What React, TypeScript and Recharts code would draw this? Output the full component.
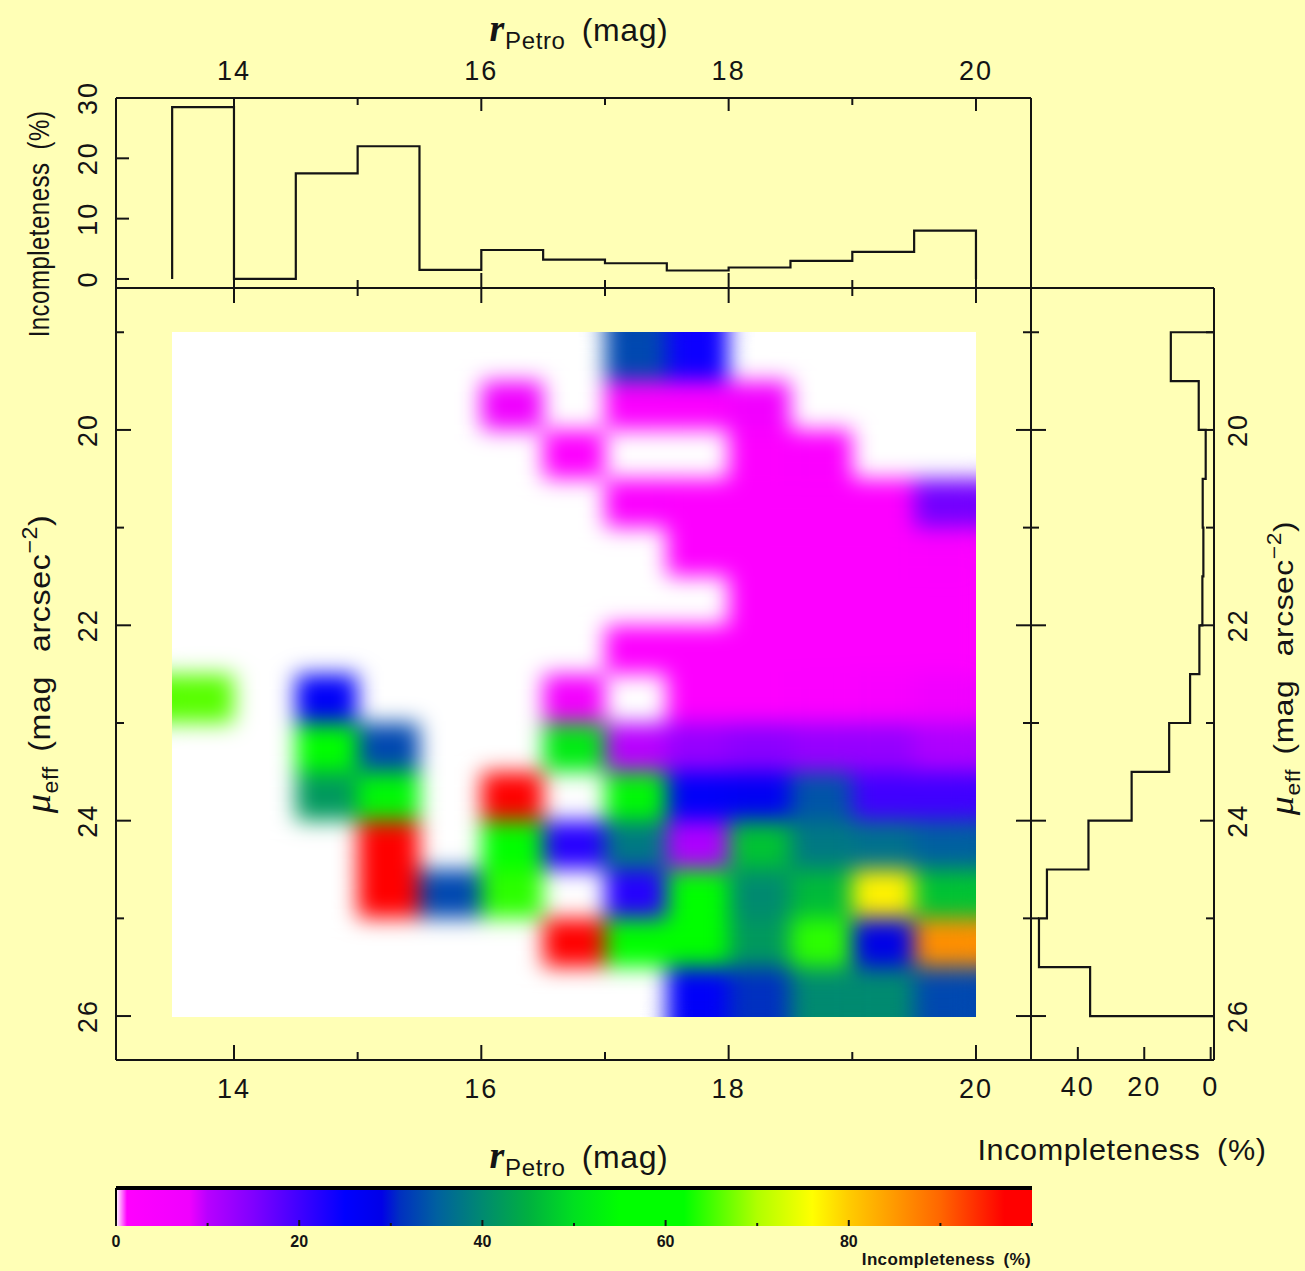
import React from "react";
import { BarChart, Bar, LineChart, Line, ScatterChart, Scatter, XAxis, YAxis } from "recharts";

const W = 1305, H = 1271;
const BG = "#FFFFB6", INK = "#141414";
const FONT = "'Liberation Sans', Arial, sans-serif";

// ---- data ----
const rBins = [13.5,14,14.5,15,15.5,16,16.5,17,17.5,18,18.5,19,19.5];
const muBins = [19,19.5,20,20.5,21,21.5,22,22.5,23,23.5,24,24.5,25,25.5];
const row190 = [0,0,0,0,0,0,0,33,24,0,0,0,0];
const row195 = [0,0,0,0,0,8,0,3,3,7,0,0,0];
const row200 = [0,0,0,0,0,0,2,0,0,2,3,0,0];
const row205 = [0,0,0,0,0,0,0,3,2,2,2,2,16];
const row210 = [0,0,0,0,0,0,0,0,2,2,2,2,3];
const row215 = [0,0,0,0,0,0,0,0,0,2,2,2,2];
const row220 = [0,0,0,0,0,0,0,2,2,2,2,2,2];
const row225 = [66,0,26,0,0,0,6,0,2,2,3,5,8];
const row230 = [0,0,55,33,0,0,52,10,13,14,13,13,11];
const row235 = [0,0,42,54,0,97,0,54,26,27,34,20,20];
const row240 = [0,0,0,97,0,55,22,38,11,47,38,37,35];
const row245 = [0,0,0,97,33,64,0,22,57,40,46,77,47];
const row250 = [0,0,0,0,0,0,97,55,56,42,64,29,86];
const row255 = [0,0,0,0,0,0,0,0,26,31,40,40,33];
const heatRows = [row190,row195,row200,row205,row210,row215,row220,row225,row230,row235,row240,row245,row250,row255];

const topEdges = [13.5,13.5,14,14.5,15,15.5,16,16.5,17,17.5,18,18.5,19,19.5,20];
const topValues = [0,28.5,0,17.5,22,1.5,4.8,3.2,2.6,1.4,1.9,3,4.5,8,0];
const rightEdges = [19,19,19.5,20,20.5,21,21.5,22,22.5,23,23.5,24,24.5,25,25.5,26];
const rightValues = [-1,12,3.6,1.5,2.4,2.2,2.5,3.4,6.2,12.5,23.8,36.8,49.3,51.7,36.3,-1];

const cbarStops = [0,0.6,1.2,8,10,15,20,25,29,31,35,40,45,50,55,62,70,76,80,90,97,100];
const cbarColors = ["#ffffff","#ff80ff","#ff00ff","#f000ff","#b800ff","#8000ff","#4000ff","#0000ff","#0000e8","#0030c0","#0060a0","#008a70","#00b040","#00e020","#00ff00","#00ff00","#b0ff00","#ffff00","#ffcc00","#ff6600","#ff0000","#ff0000"];
const cbarRow = [{ name: "scale", span: 100 }];

const rTicks = [14,15,16,17,18,19,20];
const muTicks = [19,20,21,22,23,24,25,26];
const incTicksTop = [0,10,20,30];
const incTicksRight = [0,20,40];
const cbarTicks = [0,10,20,30,40,50,60,70,80,90,100];

// ---- panels (page coordinates) ----
const R_DOMAIN: [number, number] = [13.046, 20.445];
const MU_DOMAIN: [number, number] = [18.547, 26.45];
const PLOT = { l: 116, r: 1031, t: 288, b: 1060 };
const cellW = ((PLOT.r - PLOT.l) / (R_DOMAIN[1] - R_DOMAIN[0])) * 0.5;
const cellH = ((PLOT.b - PLOT.t) / (MU_DOMAIN[1] - MU_DOMAIN[0])) * 0.5;

const parse = (h: string) => [1, 3, 5].map((i) => parseInt(h.slice(i, i + 2), 16));
function colorOf(v: number) {
  if (v <= 0) return "#ffffff";
  for (let i = 1; i < cbarStops.length; i++) {
    if (v <= cbarStops[i]) {
      const t = (v - cbarStops[i - 1]) / (cbarStops[i] - cbarStops[i - 1]);
      const a = parse(cbarColors[i - 1]), b = parse(cbarColors[i]);
      return `rgb(${a.map((c, k) => Math.round(c + (b[k] - c) * t)).join(",")})`;
    }
  }
  return "#ff0000";
}

const heatData = heatRows.flatMap((row, j) =>
  row.map((v, i) => ({ r: rBins[i] + 0.25, mu: muBins[j] + 0.25, v }))
);
const topData = topEdges.map((r, i) => ({ r, inc: topValues[i] }));
const rightData = rightEdges.map((mu, i) => ({ mu, inc: rightValues[i] }));

type Side = "top" | "bottom" | "left" | "right";
function makeTick(side: Side, opts: { major: (v: number) => boolean; labelled?: boolean; maj?: number; min?: number; off?: number; size?: number; weight?: number; spacing?: number }) {
  const { major, labelled = false, maj = 15, min = 8, off = 28, size = 27, weight = 400, spacing = 2 } = opts;
  return (p: any) => {
    const { x, y, payload } = p;
    const v = payload.value;
    const len = major(v) ? maj : min;
    const dx = side === "left" ? len : side === "right" ? -len : 0;
    const dy = side === "top" ? len : side === "bottom" ? -len : 0;
    const lx = side === "left" ? x - off : side === "right" ? x + off : x;
    const ly = side === "top" ? y - off : side === "bottom" ? y + off : y;
    const rot = side === "left" || side === "right";
    return (
      <g>
        <line x1={x} y1={y} x2={x + dx} y2={y + dy} stroke={INK} strokeWidth={2} />
        {labelled && major(v) ? (
          <text x={lx} y={ly} textAnchor="middle" dominantBaseline="central" fontFamily={FONT} fontSize={size} fontWeight={weight} fill={INK} letterSpacing={spacing}
            transform={rot ? `rotate(-90 ${lx} ${ly})` : undefined}>{v}</text>
        ) : null}
      </g>
    );
  };
}
const even = (v: number) => v % 2 === 0;
const all = () => true;
const axisLine = { stroke: INK, strokeWidth: 2 };
const axisBase = { type: "number" as const, tickLine: false, tickSize: 0, tickMargin: 0, interval: 0 as const, axisLine };

const Layer = ({ children }: { children: React.ReactNode }) => (
  <div style={{ position: "absolute", left: 0, top: 0 }}>{children}</div>
);

const Title = ({ x, y, rot, size, sx = 1, word = 0.25, children }: { x: number; y: number; rot?: boolean; size: number; sx?: number; word?: number; children: React.ReactNode }) => (
  <div style={{ position: "absolute", left: x, top: y, transform: `translate(-50%,-50%)${rot ? " rotate(-90deg)" : ""} scaleX(${sx})`, whiteSpace: "nowrap", fontFamily: FONT, fontSize: size, color: INK, wordSpacing: `${word}em`, letterSpacing: "0.02em", lineHeight: 1 }}>
    {children}
  </div>
);
const Sub = ({ children, size }: { children: React.ReactNode; size: number }) => (
  <span style={{ fontSize: size, position: "relative", top: "0.35em", lineHeight: 0 }}>{children}</span>
);
const Sup = ({ children, size }: { children: React.ReactNode; size: number }) => (
  <span style={{ fontSize: size, position: "relative", top: "-0.6em", lineHeight: 0 }}>{children}</span>
);
const RTitle = ({ x, y }: { x: number; y: number }) => (
  <Title x={x} y={y} size={32}>
    <span style={{ fontFamily: "'Liberation Serif', serif", fontStyle: "italic", fontWeight: 700, fontSize: 38 }}>r</span>
    <Sub size={24}>Petro</Sub><span style={{ marginLeft: 16 }}>(mag)</span>
  </Title>
);
const MuTitle = ({ x, y, size, sx }: { x: number; y: number; size: number; sx: number }) => (
  <Title x={x} y={y} rot size={size} sx={sx} word={0.45}>
    <span style={{ fontFamily: "'Liberation Serif', serif", fontStyle: "italic", fontSize: size * 1.2 }}>μ</span>
    <Sub size={size * 0.72}>eff</Sub>
    <span style={{ marginLeft: size * 0.45 }}>(mag arcsec</span>
    <Sup size={size * 0.72}>−2</Sup>)
  </Title>
);

export default function App() {
  const mainMargin = { left: PLOT.l - 1, right: W - PLOT.r - 1, top: PLOT.t - 1, bottom: H - PLOT.b - 1 };
  const topMargin = { left: PLOT.l - 1, right: W - PLOT.r - 1, top: 97, bottom: H - PLOT.t - 1 };
  const rightMargin = { left: PLOT.r - 1, right: W - 1214 - 1, top: PLOT.t - 1, bottom: H - PLOT.b - 1 };
  const cbarMargin = { left: PLOT.l - 1, right: W - PLOT.r - 1, top: 1187, bottom: H - 1226 - 1 };
  const ID = "cbarFill";
  return (
    <div style={{ position: "absolute", left: 0, top: 0, width: W, height: H, background: BG, overflow: "hidden" }}>
      <style>{`.heat-cells{filter:url(#heatBlur)}`}</style>
      <svg width={0} height={0} style={{ position: "absolute" }}>
        <defs>
          <filter id="heatBlur" x="0" y="0" width="1" height="1" colorInterpolationFilters="sRGB">
            <feGaussianBlur stdDeviation="11" />
            <feComponentTransfer><feFuncA type="linear" slope="0" intercept="1" /></feComponentTransfer>
          </filter>
          <linearGradient id={ID} x1="0" y1="0" x2="1" y2="0">
            {cbarStops.map((s, i) => <stop key={s} offset={s / 100} stopColor={cbarColors[i]} />)}
          </linearGradient>
        </defs>
      </svg>

      <Layer>
        <ScatterChart width={W} height={H} margin={mainMargin} data={heatData}>
          <XAxis {...axisBase} xAxisId="b" dataKey="r" domain={R_DOMAIN} ticks={rTicks} height={1} tick={makeTick("bottom", { major: even, labelled: true, off: 29 })} />
          <XAxis {...axisBase} xAxisId="t" dataKey="r" orientation="top" domain={R_DOMAIN} ticks={rTicks} height={1} tick={makeTick("top", { major: even })} />
          <YAxis {...axisBase} yAxisId="l" dataKey="mu" reversed domain={MU_DOMAIN} ticks={muTicks} width={1} tick={makeTick("left", { major: even, labelled: true })} />
          <YAxis {...axisBase} yAxisId="r" dataKey="mu" orientation="right" reversed domain={MU_DOMAIN} ticks={muTicks} width={1} tick={makeTick("right", { major: even })} />
          <Scatter xAxisId="b" yAxisId="l" className="heat-cells" data={heatData} isAnimationActive={false}
            shape={(p: any) => <rect x={p.cx - cellW / 2} y={p.cy - cellH / 2} width={cellW} height={cellH} fill={colorOf(p.payload.v)} />} />
        </ScatterChart>
      </Layer>

      <Layer>
        <LineChart width={W} height={H} margin={topMargin} data={topData}>
          <XAxis {...axisBase} xAxisId="b" dataKey="r" domain={R_DOMAIN} ticks={rTicks} height={1} tick={makeTick("bottom", { major: even })} />
          <XAxis {...axisBase} xAxisId="t" dataKey="r" orientation="top" domain={R_DOMAIN} ticks={rTicks} height={1} tick={makeTick("top", { major: even, labelled: true, maj: 13, min: 7, off: 27 })} />
          <YAxis {...axisBase} yAxisId="l" domain={[-1.5, 30]} ticks={incTicksTop} width={1} tick={makeTick("left", { major: all, labelled: true, maj: 13 })} />
          <YAxis {...axisBase} yAxisId="r" orientation="right" domain={[-1.5, 30]} ticks={incTicksTop} width={1} tick={makeTick("right", { major: all, maj: 13 })} />
          <Line xAxisId="b" yAxisId="l" type="stepAfter" dataKey="inc" stroke={INK} strokeWidth={2.2} dot={false} isAnimationActive={false} />
        </LineChart>
      </Layer>

      <Layer>
        <LineChart width={W} height={H} layout="vertical" margin={rightMargin} data={rightData}>
          <XAxis {...axisBase} xAxisId="b" reversed domain={[-1, 54.1]} ticks={incTicksRight} height={1} tick={makeTick("bottom", { major: all, labelled: true, maj: 13, off: 27 })} />
          <XAxis {...axisBase} xAxisId="t" orientation="top" reversed domain={[-1, 54.1]} ticks={incTicksRight} height={1} tick={makeTick("top", { major: all, maj: 13 })} />
          <YAxis {...axisBase} yAxisId="l" dataKey="mu" domain={MU_DOMAIN} ticks={muTicks} width={1} tick={makeTick("left", { major: even })} />
          <YAxis {...axisBase} yAxisId="r" dataKey="mu" orientation="right" domain={MU_DOMAIN} ticks={muTicks} width={1} tick={makeTick("right", { major: even, labelled: true, maj: 14, off: 24 })} />
          <Line xAxisId="b" yAxisId="l" type="stepBefore" dataKey="inc" stroke={INK} strokeWidth={2.2} dot={false} isAnimationActive={false} />
        </LineChart>
      </Layer>

      <Layer>
        <BarChart width={W} height={H} layout="vertical" margin={cbarMargin} data={cbarRow} barCategoryGap={0}>
          <XAxis {...axisBase} xAxisId="b" domain={[0, 100]} ticks={cbarTicks} height={1} axisLine={false}
            tick={makeTick("bottom", { major: (v) => v % 20 === 0 && v < 100, labelled: true, maj: 6, min: 3, off: 15, size: 16, weight: 700, spacing: 0 })} />
          <XAxis {...axisBase} xAxisId="t" orientation="top" domain={[0, 100]} ticks={cbarTicks} height={1} axisLine={{ stroke: "#000", strokeWidth: 4 }}
            tick={makeTick("top", { major: (v) => v % 20 === 0 && v < 100, maj: 7, min: 4 })} />
          <YAxis yAxisId="l" type="category" dataKey="name" width={1} tick={false} tickLine={false} axisLine={{ stroke: "#000", strokeWidth: 2 }} />
          <Bar xAxisId="b" yAxisId="l" dataKey="span" fill={`url(#${ID})`} isAnimationActive={false} />
        </BarChart>
      </Layer>

      <RTitle x={579} y={28} />
      <RTitle x={579} y={1155} />
      <Title x={39} y={224} rot size={30} sx={0.8}>Incompleteness (%)</Title>
      <Title x={1122} y={1150} size={30} sx={1.02}>Incompleteness (%)</Title>
      <MuTitle x={38} y={664} size={30} sx={1.07} />
      <MuTitle x={1282} y={668} size={28} sx={1.13} />
      <div style={{ position: "absolute", right: W - 1031, top: 1251, fontFamily: FONT, fontSize: 17, fontWeight: 700, color: INK, whiteSpace: "nowrap", lineHeight: 1, letterSpacing: "0.02em", wordSpacing: "0.2em" }}>Incompleteness (%)</div>
    </div>
  );
}
